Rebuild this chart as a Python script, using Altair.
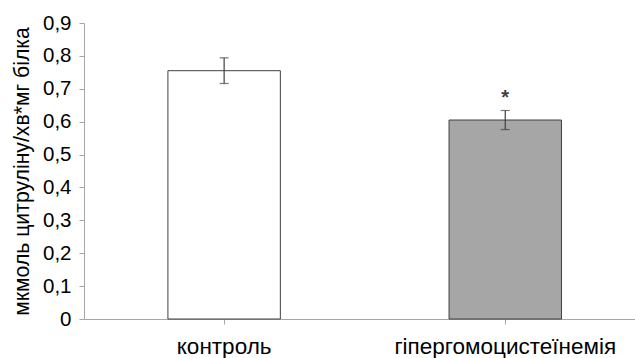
import altair as alt
import pandas as pd

# Groups, means, error half-widths and significance marks
groups = ["контроль", "гіпергомоцистеїнемія"]
means = [0.755, 0.605]
errors = [0.039, 0.029]
marks = ["", "*"]
fills = ["#ffffff", "#a6a6a6"]
y_ticks = [0, 0.1, 0.2, 0.3, 0.4, 0.5, 0.6, 0.7, 0.8, 0.9]

df = pd.DataFrame({
    "group": groups,
    "mean": means,
    "err": errors,
    "mark": marks,
    "fill": fills,
})
df["lo"] = df["mean"] - df["err"]
df["hi"] = df["mean"] + df["err"]

FONT = "Liberation Sans"
AX = "#a6a6a6"
DARK = "#404040"

x_axis = alt.Axis(
    title=None, labelAngle=0, labelFontSize=22.5, labelFont=FONT,
    labelColor="#000000", labelPadding=11, domainColor=AX, tickColor=AX,
    tickSize=5, grid=False, labelOverlap=False, labelLimit=0,
)
x_scale = alt.Scale(paddingInner=0.6, paddingOuter=0.28, align=0.533)

y_scale = alt.Scale(domain=[0, 0.9], nice=False)
y_axis = alt.Axis(
    title="мкмоль цитруліну/хв*мг білка",
    titleFont=FONT, titleFontSize=21.2, titleFontWeight="normal",
    titleColor="#000000",
    titleX=-62, titleY=148, titleAngle=270,
    titleAlign="center", titleBaseline="middle",
    values=y_ticks,
    labelExpr="datum.value == 0 ? '0' : replace(format(datum.value, '.1f'), '.', ',')",
    labelFont=FONT, labelFontSize=20.5, labelColor="#000000", labelPadding=8,
    labelOverlap=False,
    domainColor=AX, tickColor=AX, tickSize=5, grid=False,
)


def xe():
    return alt.X("group:N", sort=groups, scale=x_scale, axis=x_axis)


def ye(field):
    return alt.Y(field, scale=y_scale, axis=y_axis)


base = alt.Chart(df)

bars = base.mark_bar(stroke=DARK, strokeWidth=1).encode(
    x=xe(),
    y=ye("mean:Q"),
    fill=alt.Fill("fill:N", scale=None),
)

whisker = base.mark_rule(color=DARK, strokeWidth=1.2).encode(
    x=xe(),
    y=ye("lo:Q"),
    y2="hi:Q",
)

cap_hi = base.mark_tick(color=DARK, size=9, thickness=1.2).encode(
    x=xe(),
    y=ye("hi:Q"),
)
cap_lo = base.mark_tick(color=DARK, size=9, thickness=1.2).encode(
    x=xe(),
    y=ye("lo:Q"),
)

stars = base.mark_text(
    font=FONT, fontSize=20, fontWeight="bold", color=DARK, dy=-12, baseline="middle"
).encode(
    x=xe(),
    y=ye("hi:Q"),
    text="mark:N",
)

chart = (
    alt.layer(bars, whisker, cap_hi, cap_lo, stars)
    .properties(
        width=551,
        height=296,
        autosize=alt.AutoSizeParams(type="none"),
        padding={"left": 84, "top": 23, "right": 0, "bottom": 39},
        background="#ffffff",
    )
    .configure_view(stroke=None)
)

chart.save("out.html", embed_options={"renderer": "svg", "actions": False})
